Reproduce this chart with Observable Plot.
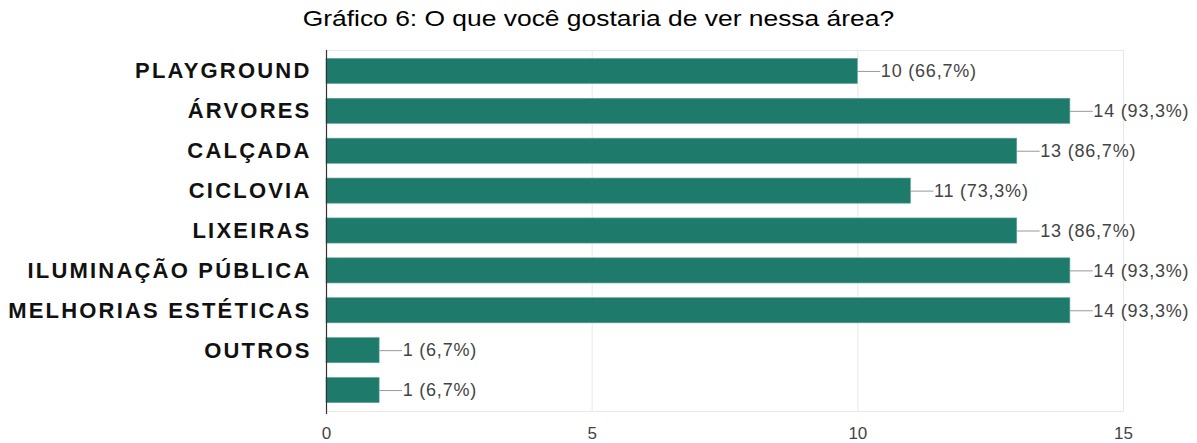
<!DOCTYPE html>
<html>
<head>
<meta charset="utf-8">
<script src="https://cdn.jsdelivr.net/npm/d3@7"></script>
<script src="https://cdn.jsdelivr.net/npm/@observablehq/plot@0.6"></script>
<style>
  html, body { margin: 0; padding: 0; background: #fff; }
  #title {
    height: 36px; box-sizing: border-box; padding-top: 7px;
    font-family: "Liberation Sans", Arial, sans-serif; font-size: 22px; line-height: 24px;
    color: #000; text-align: center; white-space: nowrap;
  }
  #title span { display: inline-block; transform: scaleX(1.2); transform-origin: center; }
  #chart svg { display: block; }
  #chart g[aria-label="y-axis tick label"] text { letter-spacing: 2.2px; }
  #chart g[aria-label="text"] text { letter-spacing: 0.8px; }
</style>
</head>
<body>
<div id="title"><span>Gráfico 6: O que você gostaria de ver nessa área?</span></div>
<div id="chart"></div>
<script>
const titleText = "Gráfico 6: O que você gostaria de ver nessa área?";
const categories = ["PLAYGROUND", "ÁRVORES", "CALÇADA", "CICLOVIA", "LIXEIRAS", "ILUMINAÇÃO PÚBLICA", "MELHORIAS ESTÉTICAS", "OUTROS", ""];
const counts = [10, 14, 13, 11, 13, 14, 14, 1, 1];
const valueLabels = ["10 (66,7%)", "14 (93,3%)", "13 (86,7%)", "11 (73,3%)", "13 (86,7%)", "14 (93,3%)", "14 (93,3%)", "1 (6,7%)", "1 (6,7%)"];
const xTicks = [0, 5, 10, 15];

const data = categories.map((c, i) => ({category: c, value: counts[i], label: valueLabels[i]}));

const lineShape = {
  draw(context, l) { context.moveTo(0, 0); context.lineTo(0, -l); }
};

const chart = Plot.plot({
  width: 1197,
  height: 407,
  marginTop: 14,
  marginBottom: 32,
  marginLeft: 326,
  marginRight: 74,
  style: {fontFamily: "'Liberation Sans', Arial, sans-serif", background: "#fff"},
  x: {domain: [0, 15], ticks: xTicks, label: null},
  y: {domain: categories, paddingInner: 0.37, paddingOuter: 0.21, round: false, label: null},
  marks: [
    Plot.frame({stroke: "#e8e8e8"}),
    Plot.ruleX(xTicks.slice(1), {stroke: "#e8e8e8"}),
    Plot.barX(data, {x: "value", y: "category", fill: "#1e7b6b", stroke: "#5fa596", strokeWidth: 0.6}),
    Plot.vector(data, {x: "value", y: "category", length: 22, rotate: 90, anchor: "start", shape: lineShape, stroke: "#999", strokeWidth: 1}),
    Plot.text(data, {x: "value", y: "category", text: "label", textAnchor: "start", dx: 23, fill: "#444", fontSize: 18}),
    Plot.ruleX([0], {stroke: "#333", strokeWidth: 1.2, insetBottom: -3}),
    Plot.axisX({ticks: xTicks, tickSize: 0, tickPadding: 15, fontSize: 17, color: "#444", label: null}),
    Plot.axisY({tickSize: 0, tickPadding: 15, fontSize: 22, fontWeight: "bold", color: "#111", label: null})
  ]
});
document.getElementById("chart").appendChild(chart);
</script>
</body>
</html>
